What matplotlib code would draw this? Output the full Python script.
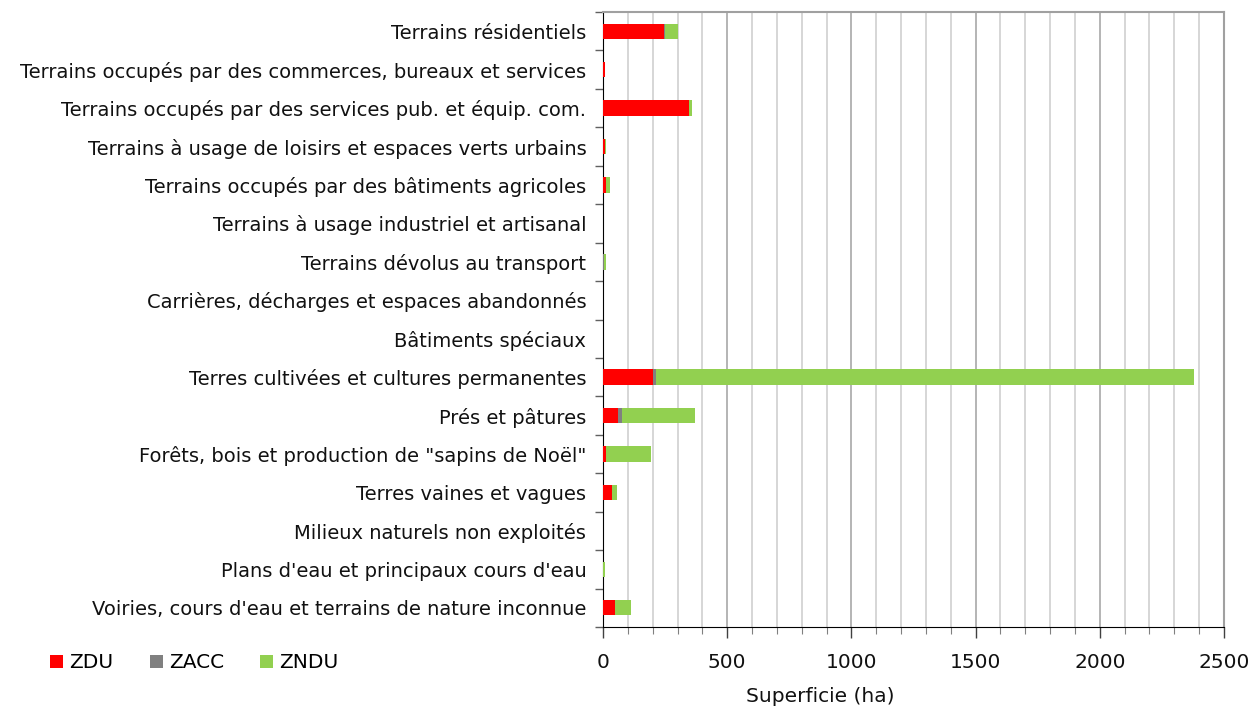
import matplotlib
matplotlib.use("Agg")
import matplotlib.pyplot as plt
import numpy as np

# ── Data ─────────────────────────────────────────────────────────────────────
categories = [
    "Terrains résidentiels",
    "Terrains occupés par des commerces, bureaux et services",
    "Terrains occupés par des services pub. et équip. com.",
    "Terrains à usage de loisirs et espaces verts urbains",
    "Terrains occupés par des bâtiments agricoles",
    "Terrains à usage industriel et artisanal",
    "Terrains dévolus au transport",
    "Carrières, décharges et espaces abandonnés",
    "Bâtiments spéciaux",
    "Terres cultivées et cultures permanentes",
    "Prés et pâtures",
    "Forêts, bois et production de \"sapins de Noël\"",
    "Terres vaines et vagues",
    "Milieux naturels non exploités",
    "Plans d'eau et principaux cours d'eau",
    "Voiries, cours d'eau et terrains de nature inconnue",
]
zdu  = [245, 8, 345, 8, 14, 0, 1, 0, 0, 200, 62, 14, 36, 0, 0, 48]
zacc = [5, 0, 0, 0, 0, 0, 3, 0, 0, 13, 14, 0, 0, 0, 0, 0]
zndu = [50, 0, 12, 3, 16, 2, 8, 2, 0, 2166, 293, 179, 20, 0, 8, 65]

series_names = ["ZDU", "ZACC", "ZNDU"]
colors = ["#FF0000", "#808080", "#92D050"]

# ── Figure ───────────────────────────────────────────────────────────────────
fig = plt.figure(figsize=(12.52, 7.11), dpi=100)
ax = fig.add_axes([603 / 1252, 1 - 627 / 711, 621 / 1252, 615 / 711])

y = np.arange(len(categories))
left = np.zeros(len(categories))
for vals, name, col in zip([zdu, zacc, zndu], series_names, colors):
    ax.barh(y, vals, left=left, height=0.4, color=col, label=name, zorder=3)
    left += np.array(vals)

ax.set_xlim(0, 2500)
ax.set_ylim(len(categories) - 0.5, -0.5)

# grid
ax.set_xticks(np.arange(0, 2501, 500))
ax.set_xticks(np.arange(0, 2501, 100), minor=True)
ax.grid(axis="x", which="minor", color="#d0d0d0", lw=1.2, zorder=0)
ax.grid(axis="x", which="major", color="#a8a8a8", lw=1.2, zorder=0)
ax.tick_params(axis="x", which="major", length=8, width=1, color="#404040",
               pad=11, labelsize=14.5, labelcolor="#111111")
ax.tick_params(axis="x", which="minor", length=5, width=0.8, color="#808080")

# y ticks: labels at centres, marks between categories
ax.set_yticks(y)
ax.set_yticklabels(categories)
ax.set_yticks(np.arange(-0.5, len(categories), 1), minor=True)
ax.tick_params(axis="y", which="major", length=0, pad=12, labelsize=14,
               labelcolor="#111111")
ax.tick_params(axis="y", which="minor", length=6, width=1, color="#606060")

for s in ["top", "right"]:
    ax.spines[s].set_color("#a0a0a0")
    ax.spines[s].set_linewidth(1.5)
ax.spines["left"].set_color("#000000")
ax.spines["bottom"].set_color("#000000")

ax.set_xlabel("Superficie (ha)", fontsize=14.5, color="#111111")
ax.xaxis.set_label_coords((820 - 603) / 621, -(697 - 627) / 615)
ax.xaxis.label.set_va("center")

fig.legend(loc="center left", bbox_to_anchor=(50 / 1252, 1 - 663 / 711),
           ncol=3, frameon=False, fontsize=14.5, handlelength=0.65,
           handleheight=0.65, handletextpad=0.3, columnspacing=1.8,
           borderpad=0, borderaxespad=0)

plt.savefig("out.png", dpi=100)
